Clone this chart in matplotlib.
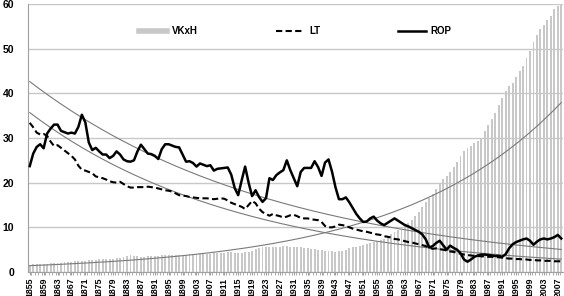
import numpy as np
import matplotlib
matplotlib.use('Agg')
import matplotlib.pyplot as plt
from matplotlib.lines import Line2D

plt.rcParams['font.family'] = ['Liberation Sans', 'DejaVu Sans']

years = list(range(1855, 2009))

vkxh = [1.6, 1.7, 1.8, 1.8, 1.9, 1.9, 2.0, 2.0, 2.1, 2.1,   # 1855-1864
        2.2, 2.2, 2.3, 2.4, 2.4, 2.5, 2.5, 2.6, 2.7, 2.7,   # 1865-1874
        2.8, 2.8, 2.9, 3.0, 3.0, 3.1, 3.2, 3.3, 3.6, 3.7,   # 1875-1884
        3.6, 3.5, 3.4, 3.4, 3.5, 3.5, 3.6, 3.6, 3.7, 3.7,   # 1885-1894
        3.8, 3.8, 3.8, 3.9, 3.9, 3.9, 4.0, 4.0, 4.0, 4.0,   # 1895-1904
        4.1, 4.1, 4.1, 4.2, 4.2, 4.3, 4.3, 4.4, 4.4, 4.3,   # 1905-1914
        4.2, 4.3, 4.4, 4.5, 4.8, 5.2, 5.4, 5.5, 5.6, 5.6,   # 1915-1924
        5.7, 5.7, 5.7, 5.8, 5.8, 5.7, 5.6, 5.5, 5.5, 5.4,   # 1925-1934
        5.3, 5.2, 5.1, 5.0, 4.9, 4.8, 4.7, 4.6, 4.5, 4.6,   # 1935-1944
        4.8, 5.0, 5.3, 5.5, 5.7, 5.9, 6.1, 6.3, 6.5, 6.7,   # 1945-1954
        6.9, 7.2, 7.5, 7.9, 8.4, 8.9, 9.3, 9.6, 10.2, 10.9,  # 1955-1964
        11.6, 12.6, 13.5, 14.6, 15.6, 16.5, 17.4, 18.6, 19.8, 20.8,  # 1965-1974
        21.5, 22.3, 23.5, 24.6, 25.9, 27.1, 27.8, 28.2, 28.8, 29.3,  # 1975-1984
        29.8, 31.5, 33.0, 34.3, 35.5, 37.5, 39.0, 40.6, 41.6, 42.4,  # 1985-1994
        43.6, 45.0, 46.2, 47.8, 49.5, 51.5, 53.0, 54.3, 55.3, 56.5,  # 1995-2004
        57.3, 58.8, 59.6, 60.0]                                     # 2005-2008

lt = [33.4, 32.4, 31.2, 30.8, 30.9, 30.5, 29.2, 28.2, 28.4, 27.8,
      27.2, 26.6, 26.0, 25.2, 23.8, 22.9, 22.7, 22.4, 22.1, 21.4,
      21.2, 21.0, 20.7, 20.3, 20.1, 20.0, 20.2, 19.7, 19.2, 18.9,
      18.9, 19.0, 19.0, 19.0, 19.1, 19.0, 18.9, 18.7, 18.5, 18.3,
      18.2, 18.0, 17.6, 17.2, 17.1, 17.0, 16.8, 16.7, 16.6, 16.5,
      16.5, 16.5, 16.4, 16.3, 16.4, 16.5, 16.4, 16.0, 15.5, 15.2,
      14.9, 14.6, 14.1, 15.0, 15.9, 15.4, 14.2, 13.4, 13.0, 12.6,
      13.0, 12.7, 12.5, 12.2, 12.4, 12.7, 12.8, 12.5, 12.1, 12.0,
      12.0, 11.8, 11.7, 11.6, 11.2, 10.3, 10.0, 10.0, 10.2, 10.6,
      10.5, 10.3, 10.0, 9.7, 9.5, 9.3, 9.1, 9.0, 8.8, 8.6,
      8.4, 8.3, 8.0, 7.9, 7.7, 7.4, 7.3, 7.1, 6.9, 6.7,
      6.6, 6.4, 6.2, 6.0, 5.8, 5.4, 5.2, 5.3, 5.1, 5.0,
      4.8, 4.6, 4.5, 4.3, 4.1, 3.9, 3.8, 3.7, 3.6, 3.6,
      3.5, 3.5, 3.4, 3.4, 3.3, 3.3, 3.2, 3.1, 3.0, 3.0,
      2.9, 2.9, 2.8, 2.8, 2.7, 2.7, 2.6, 2.6, 2.5, 2.5,
      2.5, 2.4, 2.4, 2.4]

rop = [23.7, 26.5, 28.0, 28.6, 27.7, 31.0, 32.1, 33.0, 33.0, 31.6,
       31.3, 31.0, 31.2, 31.0, 32.5, 35.2, 33.5, 29.0, 27.3, 27.8,
       27.0, 26.3, 26.3, 25.5, 26.0, 27.0, 26.3, 25.2, 24.8, 24.7,
       25.0, 27.0, 28.5, 27.5, 26.5, 26.4, 26.0, 25.3, 27.5, 28.6,
       28.6, 28.3, 28.0, 27.9, 26.3, 24.7, 24.8, 24.4, 23.6, 24.3,
       24.0, 23.7, 23.9, 22.7, 23.1, 23.2, 23.3, 23.4, 21.8, 18.8,
       17.2, 20.5, 23.6, 20.0, 17.0, 18.3, 16.8, 15.7, 16.5, 21.0,
       20.6, 21.7, 22.3, 22.8, 25.0, 22.8, 21.0, 19.2, 22.4, 23.3,
       23.3, 23.3, 24.8, 23.5, 21.5, 24.5, 25.2, 22.5, 19.0, 16.3,
       16.3, 16.7, 15.6, 14.3, 13.0, 12.0, 11.2, 11.3, 12.0, 12.4,
       11.5, 10.9, 10.5, 11.0, 11.5, 12.0, 11.5, 11.0, 10.5, 10.2,
       9.8, 9.4, 9.0, 8.4, 7.3, 5.5, 5.8, 6.5, 7.0, 6.0,
       5.0, 5.9, 5.4, 5.0, 4.2, 2.8, 2.3, 2.8, 3.4, 3.7,
       3.9, 3.9, 3.8, 3.7, 3.6, 3.6, 3.4, 4.0, 5.3, 6.2,
       6.7, 7.0, 7.3, 7.5, 7.0, 6.1, 6.8, 7.3, 7.5, 7.3,
       7.5, 7.8, 8.3, 7.5]

x = np.arange(len(years))

fig = plt.figure(figsize=(5.64, 2.96), dpi=100)
ax = fig.add_axes([28/564, 1-272/296, 535/564, 268/296])

ax.bar(x, vkxh, width=0.55, color='#c8c8c8', zorder=2)

# exponential trend lines (as in the Excel original)
for s in (vkxh, lt, rop):
    b, a = np.polyfit(x, np.log(s), 1)
    ax.plot(x, np.exp(a + b*x), color='#7a7a7a', lw=0.8, zorder=3)

ax.plot(x, lt, color='black', lw=1.5, ls=(0, (3, 1.6)), zorder=4)
ax.plot(x, rop, color='black', lw=1.8, solid_joinstyle='round', zorder=5)

ax.set_xlim(-0.5, len(years) - 0.5)
ax.set_ylim(0, 60)
ax.set_yticks(range(0, 61, 10))
ax.yaxis.grid(True, color='#c8c8c8', lw=1)
ax.set_axisbelow(True)
ax.tick_params(axis='y', length=0, labelsize=7.5, pad=10)
for t in ax.get_yticklabels():
    t.set_fontweight('bold')

ax.set_xticks(x[::4])
ax.set_xticklabels([str(y) for y in years[::4]], rotation=90,
                   fontsize=6.3, fontweight='bold')
ax.set_xticks(x[:-1] + 0.5, minor=True)
ax.tick_params(axis='x', which='both', length=2.5, color='#a0a0a0', pad=1.5)

for sp in ('top', 'right'):
    ax.spines[sp].set_visible(False)
ax.spines['left'].set_color('#a0a0a0')
ax.spines['bottom'].set_color('#a0a0a0')

handles = [Line2D([], [], color='#c8c8c8', lw=4),
           Line2D([], [], color='black', lw=1.5, ls=(0, (3, 1.6))),
           Line2D([], [], color='black', lw=1.8)]
ax.legend(handles, ['VKxH', 'LT', 'ROP'], ncol=3, frameon=False,
          loc='center', bbox_to_anchor=(0.5, (272-31)/268),
          prop={'size': 7, 'weight': 'bold'}, handlelength=2.9,
          columnspacing=8.0, handletextpad=0.5)

fig.savefig('out.png', dpi=100)
